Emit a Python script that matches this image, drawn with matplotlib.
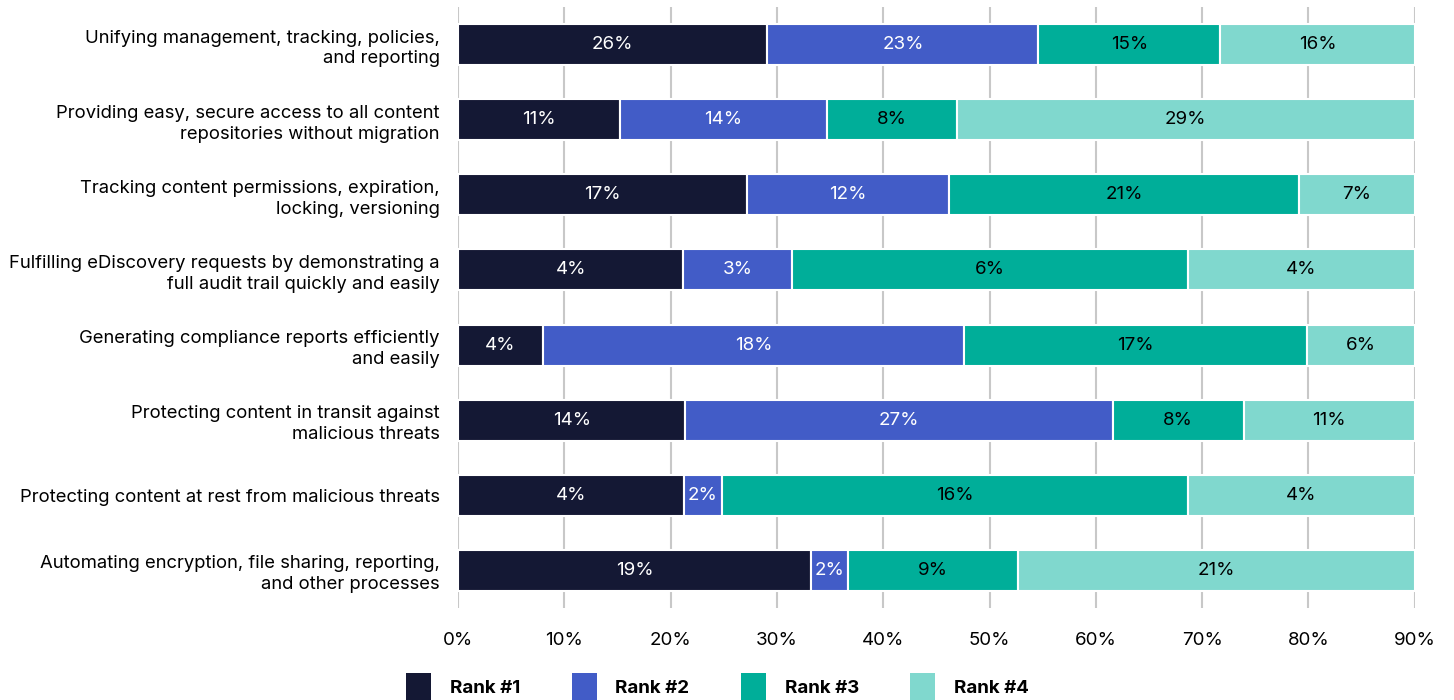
import numpy as np
import matplotlib.pyplot as plt
from matplotlib.patches import Patch

plt.rcParams['font.family'] = ['Inter', 'DejaVu Sans']

categories = [
    "Unifying management, tracking, policies,\nand reporting",
    "Providing easy, secure access to all content\nrepositories without migration",
    "Tracking content permissions, expiration,\nlocking, versioning",
    "Fulfilling eDiscovery requests by demonstrating a\nfull audit trail quickly and easily",
    "Generating compliance reports efficiently\nand easily",
    "Protecting content in transit against\nmalicious threats",
    "Protecting content at rest from malicious threats",
    "Automating encryption, file sharing, reporting,\nand other processes",
]

series_names = ["Rank #1", "Rank #2", "Rank #3", "Rank #4"]

# segment widths as drawn on the axis
rank1 = [29.1, 15.2, 27.2, 21.2, 8.0, 21.4, 21.3, 33.2]
rank2 = [25.5, 19.5, 19.0, 10.2, 39.6, 40.2, 3.5, 3.5]
rank3 = [17.1, 12.2, 32.9, 37.3, 32.3, 12.3, 43.9, 16.0]
rank4 = [18.3, 43.1, 10.9, 21.3, 10.1, 16.1, 21.3, 37.3]

# printed labels
rank1_lbl = ["26%", "11%", "17%", "4%", "4%", "14%", "4%", "19%"]
rank2_lbl = ["23%", "14%", "12%", "3%", "18%", "27%", "2%", "2%"]
rank3_lbl = ["15%", "8%", "21%", "6%", "17%", "8%", "16%", "9%"]
rank4_lbl = ["16%", "29%", "7%", "4%", "6%", "11%", "4%", "21%"]

colors = ["#141834", "#425CC7", "#00AE99", "#80D8CE"]
text_colors = ["white", "white", "black", "black"]

fig = plt.figure(figsize=(14.54, 7.0), dpi=100)
ax = fig.add_axes([0.315, 0.1314, 0.658, 0.8586])

y = np.arange(len(categories))
left = np.zeros(len(categories))
for vals, lbls, col, tcol in zip([rank1, rank2, rank3, rank4],
                                 [rank1_lbl, rank2_lbl, rank3_lbl, rank4_lbl],
                                 colors, text_colors):
    vals = np.array(vals)
    ax.barh(y, vals, left=left, height=0.546, color=col,
            edgecolor="white", linewidth=1.5, zorder=3)
    for yi, l, v, t in zip(y, left, vals, lbls):
        ax.text(l + v / 2, yi, t, ha="center", va="center",
                color=tcol, fontsize=13.5, zorder=4)
    left = left + vals

ax.set_xlim(0, 90)
ax.set_ylim(7.5, -0.5)
ax.set_xticks(np.arange(0, 91, 10))
ax.set_xticklabels([f"{t}%" for t in range(0, 91, 10)], fontsize=13.5)
ax.set_yticks(y)
ax.set_yticklabels(categories, fontsize=13.3, linespacing=1.3)
ax.tick_params(axis="both", length=0)
ax.tick_params(axis="x", pad=17)
ax.tick_params(axis="y", pad=13)
for s in ax.spines.values():
    s.set_visible(False)
ax.grid(axis="x", color="#C8C8C8", linewidth=1.5, zorder=0)
ax.set_axisbelow(True)

handles = [Patch(facecolor=c, edgecolor="none") for c in colors]
leg = fig.legend(handles, series_names, loc="center", bbox_to_anchor=(0.4935, 0.0186),
                 ncol=4, frameon=False, handlelength=1.33, handleheight=1.9,
                 handletextpad=1.0, columnspacing=2.75,
                 prop={"size": 13.5, "weight": "bold"})

plt.savefig("out.png", dpi=100)
